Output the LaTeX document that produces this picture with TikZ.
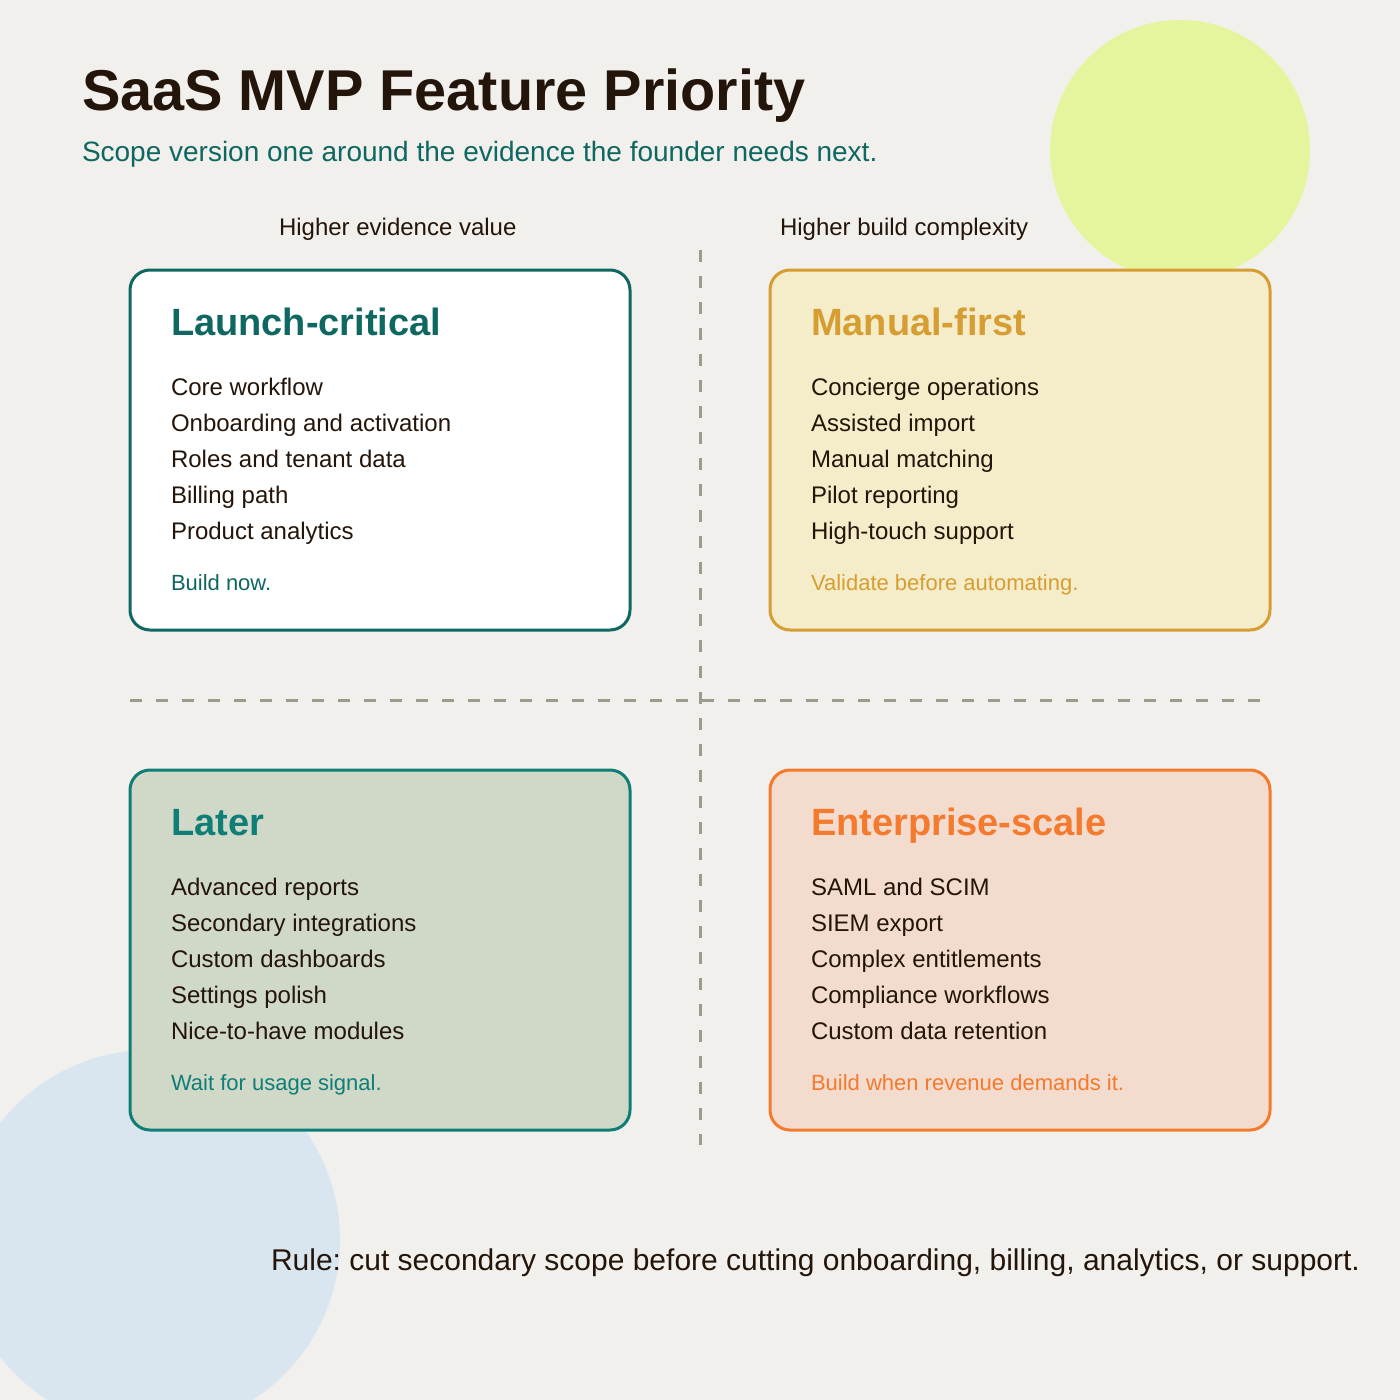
\documentclass[tikz,border=0pt]{standalone}
\usepackage{fontspec}
\setmainfont{Liberation Sans}
\frenchspacing
\definecolor{bg}{HTML}{F1F0EC}
\definecolor{ink}{HTML}{24150A}
\definecolor{tealA}{HTML}{0E6760}
\definecolor{tealB}{HTML}{0F7E76}
\definecolor{goldA}{HTML}{D69E32}
\definecolor{goldFill}{HTML}{F5ECC9}
\definecolor{orangeA}{HTML}{F47A2E}
\definecolor{orangeFill}{HTML}{F3DBCD}
\definecolor{sageFill}{HTML}{D0D8C8}
\definecolor{dashc}{HTML}{9C9B8C}
\definecolor{lime}{HTML}{E5F59E}
\definecolor{skyc}{HTML}{D9E6EF}
\tikzset{
  quad/.style={rounded corners=20pt, line width=3pt, minimum width=500pt, minimum height=360pt, inner sep=0pt},
  txt/.style={anchor=base west, inner sep=0pt, outer sep=0pt},
  qtitle/.style={txt, font=\fontsize{38}{44}\selectfont\bfseries},
  item/.style={txt, text=ink, font=\fontsize{24}{28}\selectfont},
  note/.style={txt, font=\fontsize{22}{26}\selectfont},
  axis/.style={line width=3pt, dashc, dash pattern=on 12pt off 14pt},
  axislabel/.style={txt, text=ink, font=\fontsize{24}{28}\selectfont}
}
\begin{document}
\begin{tikzpicture}[x=1pt,y=-1pt]
\useasboundingbox (0,0) rectangle (1400,1400);
\fill[bg] (0,0) rectangle (1400,1400);
\fill[lime] (1180,150) circle[radius=130pt];
\fill[skyc] (150,1240) circle[radius=190pt];

% axes
\coordinate (vtop) at (700,250);
\coordinate (vbot) at (700,1145);
\coordinate (hl) at (130,700);
\coordinate (hr) at (1260,700);
\draw[axis] (vtop) -- (vbot);
\draw[axis] (hl) -- (hr);

% title
\node[txt, text=ink, font=\fontsize{57.6}{64}\selectfont\bfseries] (title) at (82,110) {SaaS MVP Feature Priority};
\node[txt, text=tealA, font=\fontsize{28}{32}\selectfont] (subtitle) at (82,161) {Scope version one around the evidence the founder needs next.};
\node[axislabel] (lab1) at (279,235) {Higher evidence value};
\node[axislabel] (lab2) at (780,235) {Higher build complexity};

% quadrants
\node[quad, draw=tealA, fill=white] (tl) at (380,450) {};
\node[quad, draw=goldA, fill=goldFill] (tr) at (1020,450) {};
\node[quad, draw=tealB, fill=sageFill] (bl) at (380,950) {};
\node[quad, draw=orangeA, fill=orangeFill] (br) at (1020,950) {};

% top-left
\node[qtitle, text=tealA] (tlt) at (171,335) {Launch-critical};
\node[item] (tl1) at (171,395) {Core workflow};
\node[item] (tl2) at (171,431) {Onboarding and activation};
\node[item] (tl3) at (171,467) {Roles and tenant data};
\node[item] (tl4) at (171,503) {Billing path};
\node[item] (tl5) at (171,539) {Product analytics};
\node[note, text=tealA] (tln) at (171,590) {Build now.};

% top-right
\node[qtitle, text=goldA] (trt) at (811,335) {Manual-first};
\node[item] (tr1) at (811,395) {Concierge operations};
\node[item] (tr2) at (811,431) {Assisted import};
\node[item] (tr3) at (811,467) {Manual matching};
\node[item] (tr4) at (811,503) {Pilot reporting};
\node[item] (tr5) at (811,539) {High-touch support};
\node[note, text=goldA] (trn) at (811,590) {Validate before automating.};

% bottom-left
\node[qtitle, text=tealB] (blt) at (171,835) {Later};
\node[item] (bl1) at (171,895) {Advanced reports};
\node[item] (bl2) at (171,931) {Secondary integrations};
\node[item] (bl3) at (171,967) {Custom dashboards};
\node[item] (bl4) at (171,1003) {Settings polish};
\node[item] (bl5) at (171,1039) {Nice-to-have modules};
\node[note, text=tealB] (bln) at (171,1090) {Wait for usage signal.};

% bottom-right
\node[qtitle, text=orangeA] (brt) at (811,835) {Enterprise-scale};
\node[item] (br1) at (811,895) {SAML and SCIM};
\node[item] (br2) at (811,931) {SIEM export};
\node[item] (br3) at (811,967) {Complex entitlements};
\node[item] (br4) at (811,1003) {Compliance workflows};
\node[item] (br5) at (811,1039) {Custom data retention};
\node[note, text=orangeA] (brn) at (811,1090) {Build when revenue demands it.};

% rule
\node[txt, text=ink, font=\fontsize{30}{34}\selectfont] (rule) at (271,1270) {Rule: cut secondary scope before cutting onboarding, billing, analytics, or support.};
\end{tikzpicture}
\end{document}
